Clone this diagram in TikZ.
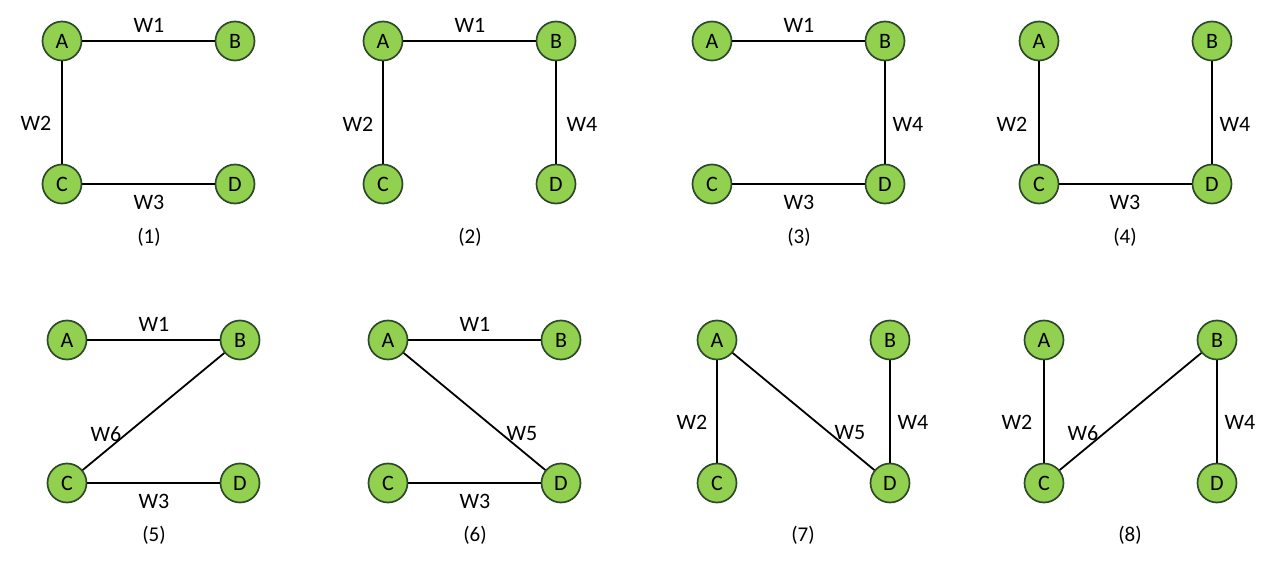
\documentclass[tikz,border=0pt]{standalone}
\usepackage{fontspec}
\setmainfont{Carlito}
\begin{document}
\begin{tikzpicture}[x=1bp,y=-1bp,
  vert/.style={circle,draw=nodeborder,line width=1.7bp,fill=nodegreen,minimum size=39bp,inner sep=0pt,font=\fontsize{22bp}{24bp}\selectfont},
  conn/.style={line width=1.8bp,black},
  wlab/.style={inner sep=0pt,font=\fontsize{22bp}{24bp}\selectfont},
  caplab/.style={inner sep=0pt,font=\fontsize{21bp}{23bp}\selectfont}]
\definecolor{nodegreen}{HTML}{92D050}
\definecolor{nodeborder}{HTML}{2E4A2A}
\useasboundingbox[fill=white] (0,0) rectangle (1278,567);
% Panel 1
\begin{scope}[shift={(62,41)}]
  \node[vert] (a1) at (0,0) {A}; \node[vert] (b1) at (173,0) {B};
  \node[vert] (c1) at (0,143) {C}; \node[vert] (d1) at (173,143) {D};
  \draw[conn] (a1) -- (b1); \draw[conn] (a1) -- (c1); \draw[conn] (c1) -- (d1);
  \node[wlab] (w1a) at (87,-16) {W1}; \node[wlab] (w2a) at (-26,82) {W2};
  \node[wlab] (w3a) at (87,161) {W3}; \node[caplab] (p1) at (87,196) {(1)};
\end{scope}
% Panel 2
\begin{scope}[shift={(383,41)}]
  \node[vert] (a2) at (0,0) {A}; \node[vert] (b2) at (173,0) {B};
  \node[vert] (c2) at (0,143) {C}; \node[vert] (d2) at (173,143) {D};
  \draw[conn] (a2) -- (b2); \draw[conn] (a2) -- (c2); \draw[conn] (b2) -- (d2);
  \node[wlab] (w1b) at (87,-16) {W1}; \node[wlab] (w2b) at (-25,83) {W2};
  \node[wlab] (w4b) at (199,83) {W4}; \node[caplab] (p2) at (87,196) {(2)};
\end{scope}
% Panel 3
\begin{scope}[shift={(712,41)}]
  \node[vert] (a3) at (0,0) {A}; \node[vert] (b3) at (173,0) {B};
  \node[vert] (c3) at (0,143) {C}; \node[vert] (d3) at (173,143) {D};
  \draw[conn] (a3) -- (b3); \draw[conn] (b3) -- (d3); \draw[conn] (c3) -- (d3);
  \node[wlab] (w1c) at (87,-16) {W1}; \node[wlab] (w4c) at (196,83) {W4};
  \node[wlab] (w3c) at (87,161) {W3}; \node[caplab] (p3) at (87,196) {(3)};
\end{scope}
% Panel 4
\begin{scope}[shift={(1039,41)}]
  \node[vert] (a4) at (0,0) {A}; \node[vert] (b4) at (173,0) {B};
  \node[vert] (c4) at (0,143) {C}; \node[vert] (d4) at (173,143) {D};
  \draw[conn] (a4) -- (c4); \draw[conn] (b4) -- (d4); \draw[conn] (c4) -- (d4);
  \node[wlab] (w2d) at (-27,83) {W2}; \node[wlab] (w4d) at (196,83) {W4};
  \node[wlab] (w3d) at (86,161) {W3}; \node[caplab] (p4) at (86,196) {(4)};
\end{scope}
% Panel 5
\begin{scope}[shift={(67,340)}]
  \node[vert] (a5) at (0,0) {A}; \node[vert] (b5) at (173,0) {B};
  \node[vert] (c5) at (0,143) {C}; \node[vert] (d5) at (173,143) {D};
  \draw[conn] (a5) -- (b5); \draw[conn] (b5) -- (c5); \draw[conn] (c5) -- (d5);
  \node[wlab] (w1e) at (87,-16) {W1}; \node[wlab] (w6e) at (39,94) {W6};
  \node[wlab] (w3e) at (87,161) {W3}; \node[caplab] (p5) at (87,195) {(5)};
\end{scope}
% Panel 6
\begin{scope}[shift={(388,340)}]
  \node[vert] (a6) at (0,0) {A}; \node[vert] (b6) at (173,0) {B};
  \node[vert] (c6) at (0,143) {C}; \node[vert] (d6) at (173,143) {D};
  \draw[conn] (a6) -- (b6); \draw[conn] (a6) -- (d6); \draw[conn] (c6) -- (d6);
  \node[wlab] (w1f) at (87,-16) {W1}; \node[wlab] (w5f) at (134,94) {W5};
  \node[wlab] (w3f) at (87,161) {W3}; \node[caplab] (p6) at (87,195) {(6)};
\end{scope}
% Panel 7
\begin{scope}[shift={(717,340)}]
  \node[vert] (a7) at (0,0) {A}; \node[vert] (b7) at (173,0) {B};
  \node[vert] (c7) at (0,143) {C}; \node[vert] (d7) at (173,143) {D};
  \draw[conn] (a7) -- (c7); \draw[conn] (a7) -- (d7); \draw[conn] (b7) -- (d7);
  \node[wlab] (w2g) at (-25,82) {W2}; \node[wlab] (w5g) at (133,93) {W5};
  \node[wlab] (w4g) at (196,82) {W4}; \node[caplab] (p7) at (86,195) {(7)};
\end{scope}
% Panel 8
\begin{scope}[shift={(1044,340)}]
  \node[vert] (a8) at (0,0) {A}; \node[vert] (b8) at (173,0) {B};
  \node[vert] (c8) at (0,143) {C}; \node[vert] (d8) at (173,143) {D};
  \draw[conn] (a8) -- (c8); \draw[conn] (b8) -- (c8); \draw[conn] (b8) -- (d8);
  \node[wlab] (w2h) at (-27,82) {W2}; \node[wlab] (w6h) at (39,93) {W6};
  \node[wlab] (w4h) at (196,82) {W4}; \node[caplab] (p8) at (86,195) {(8)};
\end{scope}
\end{tikzpicture}
\end{document}
